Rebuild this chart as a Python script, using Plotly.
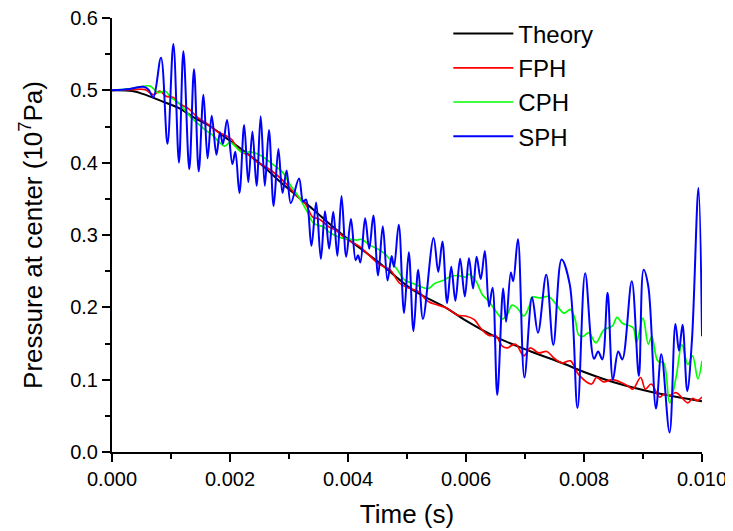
import plotly.graph_objects as go

# Time in milliseconds, pressure in 10^7 Pa
theory = [(0, 0.500), (0.34, 0.499), (0.56, 0.494), (0.84, 0.485), (1.12, 0.476), (1.40, 0.462),
          (1.69, 0.449), (1.97, 0.432), (2.27, 0.414), (2.55, 0.396), (2.83, 0.375), (3.12, 0.355),
          (3.40, 0.336), (3.68, 0.316), (3.96, 0.297), (4.54, 0.261), (5.10, 0.224), (5.67, 0.199),
          (5.97, 0.183), (6.53, 0.158), (7.10, 0.139), (7.66, 0.122), (7.99, 0.111), (8.52, 0.096),
          (9.09, 0.084), (9.65, 0.075), (10.0, 0.070)]

fph = [(0, 0.500), (0.34, 0.501), (0.56, 0.501), (0.70, 0.494), (0.81, 0.499), (0.91, 0.492),
       (1.04, 0.490), (1.12, 0.483), (1.29, 0.475), (1.46, 0.462), (1.63, 0.453), (1.80, 0.442),
       (1.94, 0.437), (2.03, 0.432), (2.10, 0.423), (2.21, 0.414), (2.33, 0.410), (2.47, 0.400),
       (2.61, 0.394), (2.78, 0.384), (2.95, 0.371), (3.12, 0.355), (3.28, 0.343), (3.40, 0.325),
       (3.51, 0.322), (3.68, 0.311), (3.79, 0.307), (3.96, 0.295), (4.20, 0.284), (4.37, 0.271),
       (4.54, 0.259), (4.71, 0.252), (4.88, 0.233), (5.05, 0.226), (5.19, 0.222), (5.36, 0.208),
       (5.53, 0.203), (5.67, 0.199), (5.86, 0.189), (5.99, 0.188), (6.14, 0.183), (6.25, 0.171),
       (6.39, 0.161), (6.50, 0.161), (6.62, 0.146), (6.70, 0.144), (6.84, 0.149), (6.98, 0.133),
       (7.09, 0.144), (7.23, 0.137), (7.37, 0.139), (7.49, 0.130), (7.63, 0.123), (7.77, 0.126),
       (7.91, 0.107), (8.13, 0.094), (8.21, 0.103), (8.33, 0.097), (8.49, 0.100), (8.75, 0.091),
       (8.83, 0.087), (8.96, 0.103), (9.04, 0.087), (9.14, 0.094), (9.28, 0.076), (9.36, 0.080),
       (9.45, 0.078), (9.56, 0.082), (9.76, 0.068), (9.84, 0.074), (9.92, 0.071), (10.0, 0.076)]

cph = [(0, 0.500), (0.30, 0.502), (0.64, 0.506), (0.78, 0.497), (0.90, 0.499), (1.00, 0.490),
       (1.12, 0.483), (1.35, 0.462), (1.57, 0.446), (1.69, 0.439), (1.91, 0.423), (2.00, 0.428),
       (2.21, 0.414), (2.33, 0.415), (2.52, 0.410), (2.72, 0.398), (2.89, 0.387), (3.03, 0.368),
       (3.17, 0.352), (3.31, 0.332), (3.42, 0.316), (3.59, 0.311), (3.68, 0.304), (3.85, 0.297),
       (3.96, 0.295), (4.15, 0.293), (4.23, 0.294), (4.37, 0.286), (4.54, 0.279), (4.65, 0.272),
       (4.82, 0.254), (4.96, 0.238), (5.10, 0.233), (5.22, 0.229), (5.36, 0.226), (5.47, 0.233),
       (5.61, 0.237), (5.72, 0.242), (5.86, 0.244), (6.00, 0.242), (6.05, 0.246), (6.17, 0.236),
       (6.28, 0.217), (6.39, 0.208), (6.53, 0.192), (6.62, 0.184), (6.70, 0.190), (6.78, 0.203),
       (6.87, 0.199), (6.98, 0.188), (7.07, 0.201), (7.12, 0.214), (7.26, 0.213), (7.40, 0.215),
       (7.51, 0.206), (7.66, 0.192), (7.77, 0.197), (7.85, 0.183), (7.91, 0.162), (7.99, 0.160),
       (8.08, 0.165), (8.20, 0.151), (8.34, 0.169), (8.48, 0.174), (8.56, 0.186), (8.65, 0.178),
       (8.79, 0.174), (8.84, 0.171), (8.89, 0.151), (9.00, 0.185), (9.09, 0.149), (9.15, 0.160),
       (9.25, 0.126), (9.35, 0.123), (9.45, 0.068), (9.56, 0.103), (9.66, 0.148), (9.76, 0.121),
       (9.84, 0.133), (9.93, 0.101), (10.0, 0.126)]

sph = [(0, 0.500), (0.30, 0.502), (0.53, 0.505), (0.62, 0.501), (0.70, 0.490), (0.83, 0.545),
       (0.94, 0.426), (1.04, 0.564), (1.135, 0.400), (1.21, 0.554), (1.31, 0.391), (1.39, 0.529),
       (1.47, 0.388), (1.55, 0.494), (1.62, 0.406), (1.69, 0.465), (1.77, 0.411), (1.83, 0.442),
       (1.88, 0.426), (1.95, 0.459), (2.04, 0.398), (2.09, 0.415), (2.16, 0.358), (2.24, 0.452),
       (2.31, 0.373), (2.38, 0.443), (2.45, 0.368), (2.52, 0.464), (2.59, 0.368), (2.66, 0.445),
       (2.74, 0.340), (2.82, 0.419), (2.89, 0.358), (2.96, 0.389), (3.03, 0.344), (3.17, 0.378),
       (3.24, 0.346), (3.29, 0.349), (3.38, 0.285), (3.46, 0.345), (3.54, 0.267), (3.61, 0.333),
       (3.68, 0.281), (3.75, 0.332), (3.82, 0.271), (3.89, 0.354), (3.97, 0.270), (4.05, 0.322),
       (4.13, 0.265), (4.17, 0.272), (4.21, 0.262), (4.29, 0.323), (4.36, 0.281), (4.43, 0.327),
       (4.51, 0.244), (4.59, 0.312), (4.67, 0.237), (4.74, 0.271), (4.78, 0.256), (4.86, 0.314),
       (4.95, 0.192), (5.03, 0.276), (5.11, 0.167), (5.19, 0.252), (5.27, 0.184), (5.45, 0.296),
       (5.53, 0.249), (5.60, 0.291), (5.68, 0.206), (5.75, 0.256), (5.82, 0.209), (5.90, 0.267),
       (5.98, 0.215), (6.05, 0.268), (6.12, 0.226), (6.18, 0.270), (6.25, 0.239), (6.32, 0.278),
       (6.39, 0.201), (6.45, 0.227), (6.53, 0.079), (6.63, 0.226), (6.68, 0.180), (6.76, 0.248),
       (6.80, 0.236), (6.88, 0.294), (6.99, 0.103), (7.12, 0.214), (7.22, 0.165), (7.36, 0.245),
       (7.48, 0.148), (7.62, 0.266), (7.76, 0.231), (7.89, 0.061), (8.02, 0.247), (8.17, 0.129),
       (8.24, 0.139), (8.31, 0.128), (8.40, 0.220), (8.49, 0.100), (8.58, 0.139), (8.65, 0.128),
       (8.81, 0.236), (8.93, 0.105), (9.01, 0.252), (9.09, 0.229), (9.22, 0.060), (9.31, 0.135),
       (9.45, 0.027), (9.55, 0.177), (9.61, 0.140), (9.67, 0.176), (9.75, 0.084), (9.83, 0.155),
       (9.94, 0.365), (10.0, 0.160)]

series_names = ["Theory", "FPH", "CPH", "SPH"]
series_data = [theory, fph, cph, sph]
series_colors = ["#000000", "#FF0000", "#00FF00", "#0000FF"]
series_widths = [2.0, 1.7, 1.7, 2.0]

x_ticks = [0.000, 0.002, 0.004, 0.006, 0.008, 0.010]
y_ticks = [0.0, 0.1, 0.2, 0.3, 0.4, 0.5, 0.6]

FONT = "Arial, Liberation Sans, Helvetica, sans-serif"

fig = go.Figure()
for name, data, color, w in zip(series_names, series_data, series_colors, series_widths):
    fig.add_trace(go.Scatter(
        x=[p[0] / 1000.0 for p in data],
        y=[p[1] for p in data],
        mode="lines",
        name=name,
        line=dict(color=color, width=w, shape="spline", smoothing=1.0),
    ))

# the page body has an 8px margin, so the figure is 8px smaller and margins shifted
fig.update_layout(
    width=725, height=523,
    margin=dict(l=104, r=31, t=10, b=79, autoexpand=False),
    paper_bgcolor="white", plot_bgcolor="white",
    font=dict(family=FONT, color="black", size=20),
    showlegend=True,
    legend=dict(
        x=0.57, y=1.015, xanchor="left", yanchor="top",
        bgcolor="rgba(0,0,0,0)", borderwidth=0,
        font=dict(family=FONT, size=24, color="black"),
        itemwidth=60, tracegroupgap=0,
    ),
    xaxis=dict(
        range=[0, 0.010], tickvals=x_ticks, tickformat=".3f",
        showline=True, linecolor="black", linewidth=2, mirror=False,
        ticks="outside", ticklen=8, tickwidth=2, tickcolor="black",
        showgrid=False, zeroline=False, automargin=False,
        ticklabeloverflow="allow",
        tickfont=dict(size=20, family=FONT),
        minor=dict(dtick=0.001, ticks="outside", ticklen=5, tickwidth=2, tickcolor="black", showgrid=False),
        title=dict(text="Time (s)", font=dict(size=26, family=FONT), standoff=16),
    ),
    yaxis=dict(
        range=[0, 0.6], tickvals=y_ticks, tickformat=".1f",
        showline=True, linecolor="black", linewidth=2, mirror=False,
        ticks="outside", ticklen=8, tickwidth=2, tickcolor="black",
        showgrid=False, zeroline=False, automargin=False,
        ticklabeloverflow="allow",
        tickfont=dict(size=20, family=FONT),
        minor=dict(dtick=0.05, ticks="outside", ticklen=5, tickwidth=2, tickcolor="black", showgrid=False),
        title=dict(text="Pressure at center (10<sup>7</sup>Pa)", font=dict(size=26, family=FONT), standoff=20),
    ),
)

fig.write_html("out.html")
